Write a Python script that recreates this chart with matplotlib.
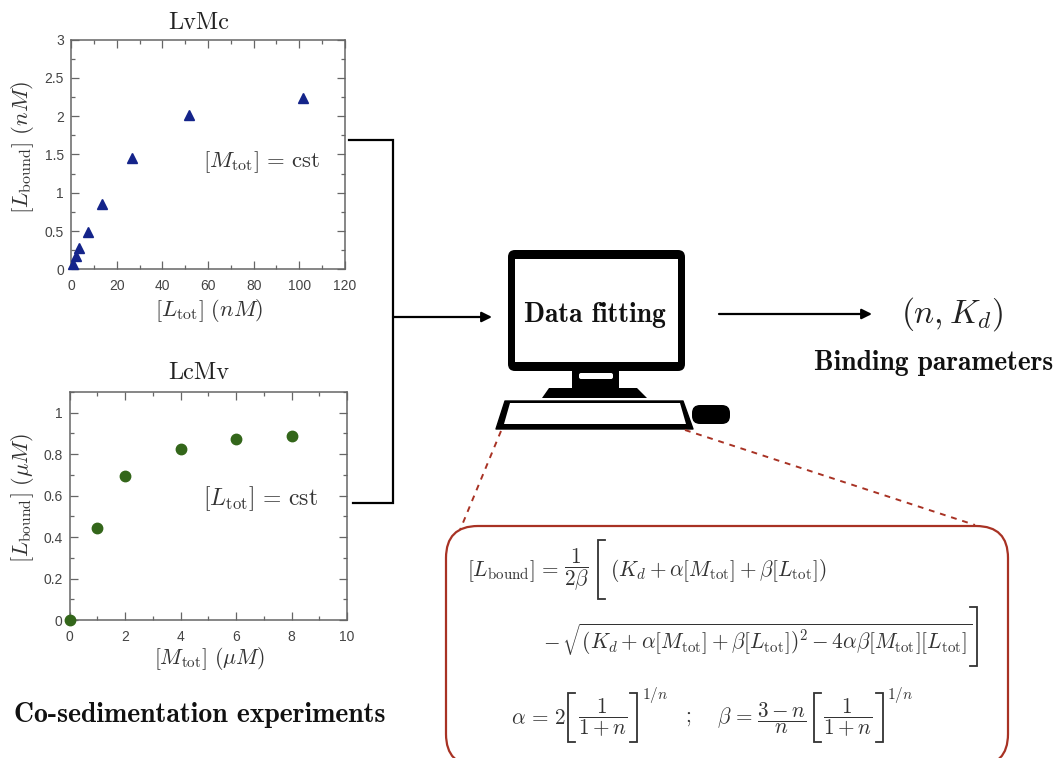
import matplotlib
matplotlib.use('Agg')
import matplotlib.pyplot as plt
from matplotlib.patches import FancyBboxPatch, Polygon, Rectangle

plt.rcParams['mathtext.fontset'] = 'cm'
plt.rcParams['font.family'] = ['Liberation Sans', 'DejaVu Sans']

# data
lvmc_x = [1, 2, 3.5, 7.5, 13.5, 26.5, 51.5, 101.5]
lvmc_y = [0.07, 0.18, 0.28, 0.49, 0.85, 1.45, 2.01, 2.24]
lcmv_x = [0, 1, 2, 4, 6, 8]
lcmv_y = [0, 0.445, 0.695, 0.825, 0.875, 0.89]
lvmc_xticks = [0, 20, 40, 60, 80, 100, 120]
lvmc_yticks = [0, 0.5, 1, 1.5, 2, 2.5, 3]
lvmc_ylabels = ['0', '0.5', '1', '1.5', '2', '2.5', '3']
lcmv_xticks = [0, 2, 4, 6, 8, 10]
lcmv_yticks = [0, 0.2, 0.4, 0.6, 0.8, 1]
lcmv_ylabels = ['0', '0.2', '0.4', '0.6', '0.8', '1']

W, H = 1056, 758
GREY = '#666666'
RED = '#a83224'
MATH = '#333333'

fig = plt.figure(figsize=(W / 100, H / 100), dpi=100)


def make_axes(left, right, top, bottom):
    ax = fig.add_axes([left / W, 1 - bottom / H, (right - left) / W, (bottom - top) / H])
    for s in ax.spines.values():
        s.set_color(GREY)
        s.set_linewidth(1.1)
    ax.tick_params(which='both', direction='in', top=True, right=True, color=GREY,
                   labelcolor='#444444', labelsize=10, width=0.9)
    ax.tick_params(which='major', length=6)
    ax.tick_params(which='minor', length=3)
    ax.tick_params(axis='x', which='major', pad=7)
    ax.tick_params(axis='y', which='major', pad=5)
    return ax


# top plot
ax1 = make_axes(71, 345, 39.5, 269.5)
ax1.plot(lvmc_x, lvmc_y, '^', color='#14248a', ms=7, clip_on=False, zorder=5)
ax1.set_xlim(0, 120)
ax1.set_ylim(0, 3)
ax1.set_xticks(lvmc_xticks)
ax1.set_yticks(lvmc_yticks, lvmc_ylabels)
ax1.set_xticks(range(10, 120, 20), minor=True)
ax1.set_yticks([0.25, 0.75, 1.25, 1.75, 2.25, 2.75], minor=True)

# bottom plot
ax2 = make_axes(69.5, 347, 392, 620)
ax2.plot(lcmv_x, lcmv_y, 'o', color='#33661a', ms=7.5, clip_on=False, zorder=5)
ax2.set_xlim(0, 10)
ax2.set_ylim(0, 1.1)
ax2.set_xticks(lcmv_xticks)
ax2.set_yticks(lcmv_yticks, lcmv_ylabels)
ax2.set_xticks(range(1, 10, 2), minor=True)
ax2.set_yticks([0.1, 0.3, 0.5, 0.7, 0.9, 1.1], minor=True)

# overlay in pixel coordinates for the diagram
ov = fig.add_axes([0, 0, 1, 1], facecolor='none')
ov.set_xlim(0, W)
ov.set_ylim(H, 0)
ov.axis('off')


def put(x, y, s, size=14, color=MATH, ha='center', **kw):
    ov.text(x, y, s, fontsize=size, color=color, ha=ha, va='center', **kw)


put(199, 23, 'LvMc', 17.5, '#222222', family='cmr10')
put(199, 373, 'LcMv', 17.5, '#222222', family='cmr10')
put(209, 310, r'$[L_{\mathrm{tot}}]\ (nM)$', 16.2)
put(209, 659, r'$[M_{\mathrm{tot}}]\ (\mu M)$', 15.6)
put(22, 148, r'$[L_{\mathrm{bound}}]\ (nM)$', 16.4, rotation=90)
put(22, 498, r'$[L_{\mathrm{bound}}]\ (\mu M)$', 16, rotation=90)
put(262, 162, r'$[M_{\mathrm{tot}}]\, =\, \mathrm{cst}$', 16.4)
put(260, 499, r'$[L_{\mathrm{tot}}]\, =\, \mathrm{cst}$', 17)
put(200, 715, 'Co-sedimentation experiments', 20, '#111111', family='cmb10')
put(595, 315, 'Data fitting', 19.8, '#111111', family='cmb10')
put(934, 363, 'Binding parameters', 19.8, '#111111', family='cmb10')
put(952, 314, r'$(n, K_d)$', 24, '#222222')

# connectors
ov.plot([349, 393, 393, 353], [140, 140, 503, 503], color='k', lw=1.6, solid_joinstyle='miter')
ov.annotate('', xy=(492, 317), xytext=(393, 317),
            arrowprops=dict(arrowstyle='-|>', color='k', lw=1.6, shrinkA=0, shrinkB=0, mutation_scale=15))
ov.annotate('', xy=(872, 314), xytext=(719, 314),
            arrowprops=dict(arrowstyle='-|>', color='k', lw=1.6, shrinkA=0, shrinkB=0, mutation_scale=15))

# computer
ov.add_patch(FancyBboxPatch((513, 255), 167, 111, boxstyle='round,pad=5,rounding_size=7', fc='k', ec='none'))
ov.add_patch(Rectangle((515, 259), 163, 103, fc='w', ec='none'))
ov.add_patch(Rectangle((572, 370), 47, 19, fc='k', ec='none'))
ov.add_patch(FancyBboxPatch((580, 374), 32, 4, boxstyle='round,pad=1,rounding_size=2', fc='w', ec='none'))
ov.add_patch(Polygon([(549, 388), (637, 388), (647, 398), (542, 398)], fc='k', ec='none'))
ov.add_patch(Polygon([(505, 401), (683, 401), (693, 429), (496, 429)], fc='k', ec='k', lw=1, joinstyle='round'))
ov.add_patch(Polygon([(510, 403), (680, 403), (686, 424), (504, 424)], fc='w', ec='none'))
ov.add_patch(FancyBboxPatch((700, 413), 22, 3, boxstyle='round,pad=8,rounding_size=8', fc='k', ec='none'))

# zoom lines and formula box
ov.plot([501, 460], [431, 530], color=RED, lw=1.4, ls=(0, (3, 3)))
ov.plot([685, 975], [430, 525], color=RED, lw=1.4, ls=(0, (3, 3)))
ov.add_patch(FancyBboxPatch((478, 558), 498, 176, boxstyle='round,pad=32,rounding_size=32',
                            fc='w', ec=RED, lw=1.6, clip_on=True, zorder=3))

# formula
f = 15.3
put(467, 571, r'$[L_{\mathrm{bound}}]\, =$', f, ha='left', zorder=4)
put(577, 570, r'$\dfrac{1}{2\beta}$', f, zorder=4)
put(610, 571, r'$(K_d + \alpha[M_{\mathrm{tot}}] + \beta[L_{\mathrm{tot}}])$', f, ha='left', zorder=4)
put(543, 640, r'$-\,\sqrt{(K_d + \alpha[M_{\mathrm{tot}}] + \beta[L_{\mathrm{tot}}])^2 - 4\alpha\beta[M_{\mathrm{tot}}][L_{\mathrm{tot}}]}$',
    f, ha='left', zorder=4)
put(511, 718, r'$\alpha\, =\, 2$', f, ha='left', zorder=4)
put(603, 718, r'$\dfrac{1}{1+n}$', f, zorder=4)
put(642, 695, r'$1/n$', 11, ha='left', zorder=4)
put(688, 718, r'$;$', f, zorder=4)
put(717, 718, r'$\beta\, =$', f, ha='left', zorder=4)
put(782, 718, r'$\dfrac{3-n}{n}$', f, zorder=4)
put(848, 718, r'$\dfrac{1}{1+n}$', f, zorder=4)
put(887, 695, r'$1/n$', 11, ha='left', zorder=4)


def bracket(x, y0, y1, side, lw=1.3):
    d = 7 if side == 'l' else -7
    ov.plot([x + d, x, x, x + d], [y0, y0, y1, y1], color=MATH, lw=lw, zorder=4,
            solid_joinstyle='miter')


bracket(598, 540, 599, 'l')
bracket(977, 607, 666, 'r')
bracket(568, 693, 742, 'l')
bracket(637, 693, 742, 'r')
bracket(814, 693, 742, 'l')
bracket(883, 693, 742, 'r')

fig.savefig('out.png', dpi=100)
